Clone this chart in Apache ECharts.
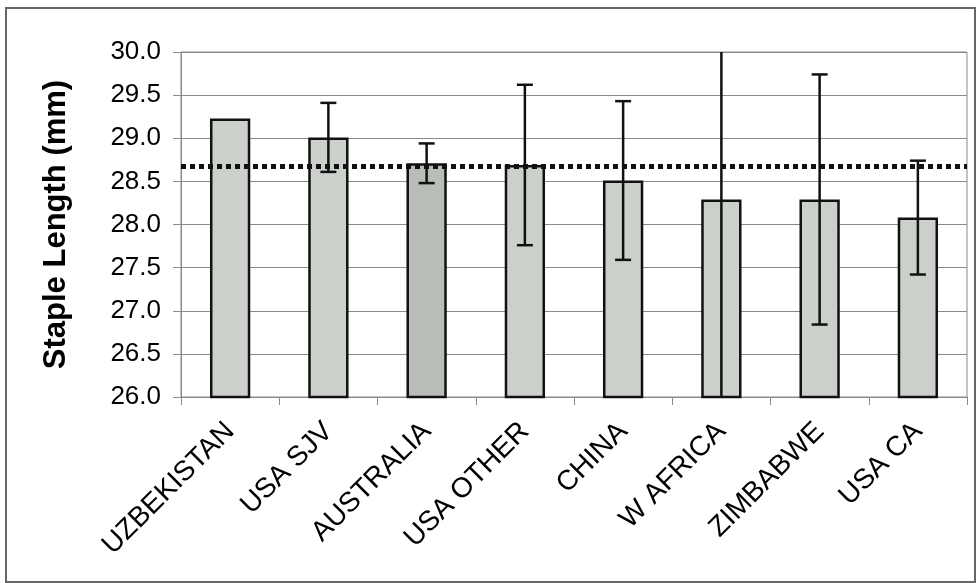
<!DOCTYPE html>
<html>
<head>
<meta charset="utf-8">
<script src="https://cdn.jsdelivr.net/npm/echarts@6/dist/echarts.min.js"></script>
<style>
html,body{margin:0;padding:0;background:#fff;}
#c{width:978px;height:583px;}
</style>
</head>
<body>
<div id="c"></div>
<script>
var categories = ['UZBEKISTAN', 'USA SJV', 'AUSTRALIA', 'USA OTHER', 'CHINA', 'W AFRICA', 'ZIMBABWE', 'USA CA'];
var values = [29.23, 29.01, 28.71, 28.69, 28.51, 28.29, 28.29, 28.08];
var errors = [null, 0.40, 0.23, 0.93, 0.92, 2.30, 1.45, 0.66];
var referenceLine = 28.68;
var yTicks = [26.0, 26.5, 27.0, 27.5, 28.0, 28.5, 29.0, 29.5, 30.0];

var FONT = '"Liberation Sans", Arial, sans-serif';
var barColor = '#cbd0cb';
var highlightColor = '#b8bdb8';

var chart = echarts.init(document.getElementById('c'), null, {renderer: 'canvas'});

var barData = values.map(function (v, i) {
  return {
    value: v,
    itemStyle: {color: categories[i] === 'AUSTRALIA' ? highlightColor : barColor}
  };
});

var errData = values.map(function (v, i) {
  return [i, v, errors[i] == null ? 0 : errors[i]];
});

chart.setOption({
  animation: false,
  backgroundColor: '#fff',
  textStyle: {fontFamily: FONT},
  graphic: [{
    type: 'rect',
    shape: {x: 6, y: 8, width: 969, height: 574},
    style: {fill: 'none', stroke: '#666', lineWidth: 2},
    z: -1
  }],
  grid: {
    left: 181, right: 11, top: 52, bottom: 186,
    show: true, borderColor: '#8a8a8a', borderWidth: 1
  },
  xAxis: {
    type: 'category',
    data: categories,
    boundaryGap: true,
    axisLine: {show: true, lineStyle: {color: '#8a8a8a', width: 1}},
    axisTick: {show: true, alignWithLabel: false, length: 8, lineStyle: {color: '#8a8a8a'}},
    axisLabel: {rotate: 45, fontSize: 28, color: '#000', margin: 30, fontFamily: FONT, interval: 0}
  },
  yAxis: {
    type: 'value',
    min: yTicks[0], max: yTicks[yTicks.length - 1], interval: 0.5,
    name: 'Staple Length (mm)',
    nameLocation: 'middle',
    nameRotate: 90,
    nameGap: 109,
    nameTextStyle: {fontSize: 31, fontWeight: 'bold', color: '#000', fontFamily: FONT},
    axisLine: {show: true, lineStyle: {color: '#8a8a8a', width: 1}},
    axisTick: {show: true, length: 8, lineStyle: {color: '#8a8a8a'}},
    axisLabel: {fontSize: 26, color: '#000', margin: 20, fontFamily: FONT,
      formatter: function (v) { return v.toFixed(1); }},
    splitLine: {show: true, lineStyle: {color: '#8a8a8a', width: 1}}
  },
  series: [{
    type: 'bar',
    data: barData,
    barWidth: '41%',
    itemStyle: {borderColor: '#111', borderWidth: 2.5},
    markLine: {
      silent: true,
      symbol: ['none', 'none'],
      label: {show: false},
      lineStyle: {color: '#111', type: [5, 4], width: 5},
      data: [{yAxis: referenceLine}],
      z: 3
    },
    z: 2
  }, {
    type: 'custom',
    clip: true,
    z: 5,
    data: errData,
    encode: {x: 0, y: 1},
    renderItem: function (params, api) {
      var idx = api.value(0);
      var v = api.value(1);
      var e = api.value(2);
      if (!e) return null;
      var hi = api.coord([idx, v + e]);
      var lo = api.coord([idx, v - e]);
      var cw = 8;
      var st = {stroke: '#111', lineWidth: 2.5, fill: null};
      return {
        type: 'group',
        children: [
          {type: 'line', shape: {x1: hi[0], y1: hi[1], x2: lo[0], y2: lo[1]}, style: st},
          {type: 'line', shape: {x1: hi[0] - cw, y1: hi[1], x2: hi[0] + cw, y2: hi[1]}, style: st},
          {type: 'line', shape: {x1: lo[0] - cw, y1: lo[1], x2: lo[0] + cw, y2: lo[1]}, style: st}
        ]
      };
    }
  }]
});
</script>
</body>
</html>
